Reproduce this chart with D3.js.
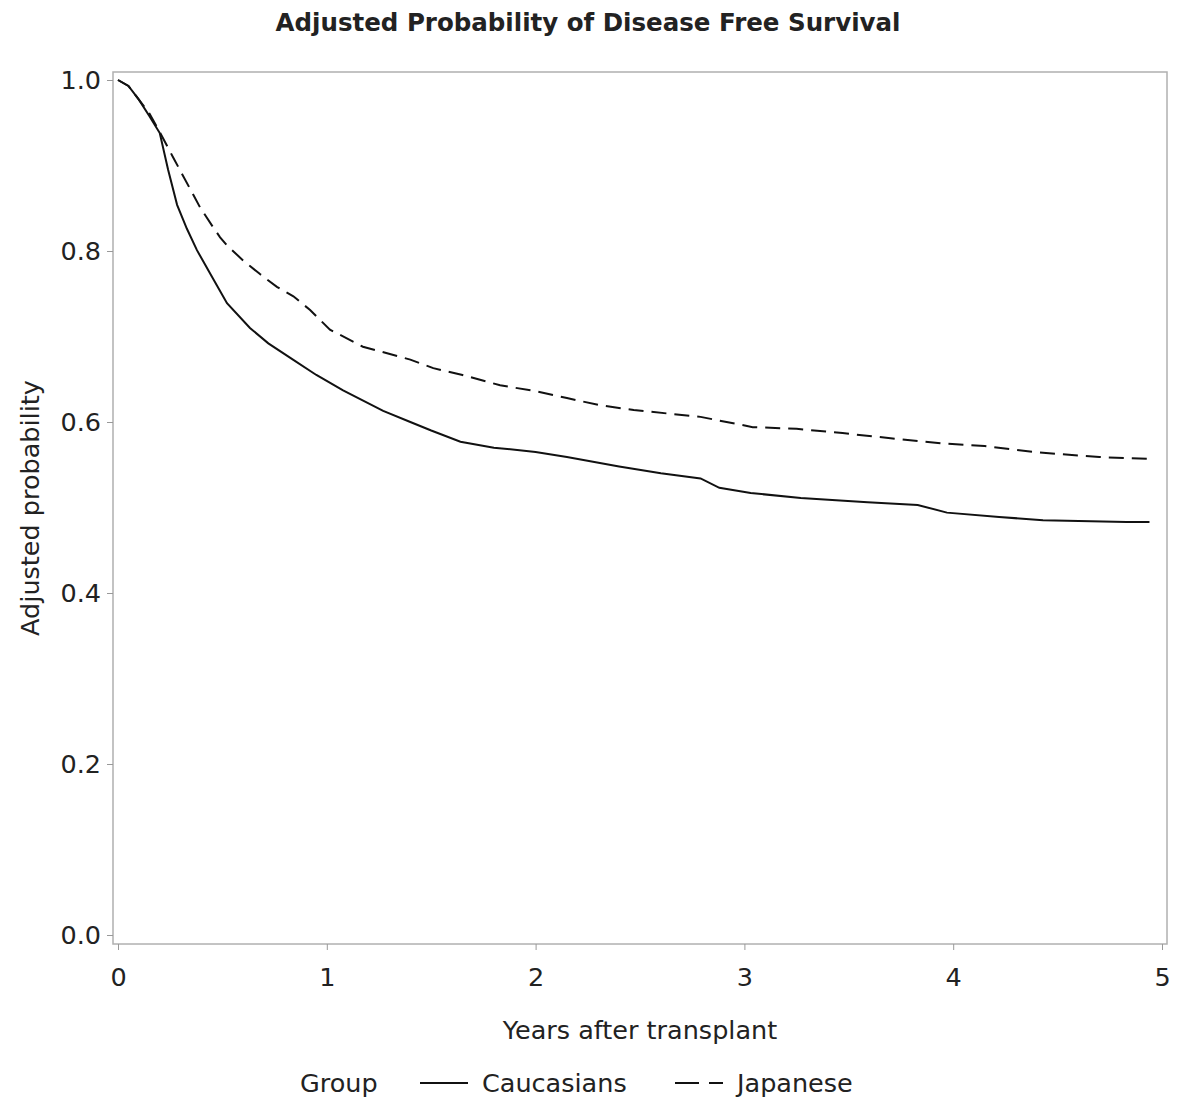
<!DOCTYPE html>
<html>
<head>
<meta charset="utf-8">
<script src="https://cdn.jsdelivr.net/npm/d3@7"></script>
<style>
  body { margin: 0; background: #fff; }
  text { font-family: "DejaVu Sans", Verdana, sans-serif; fill: #222; }
</style>
</head>
<body>
<div class="canvas"></div>
<script>
// years after transplant, adjusted probability
const cauTime = [0, 0.05, 0.1, 0.15, 0.2, 0.24, 0.283, 0.33, 0.378, 0.45, 0.522, 0.632, 0.72, 0.838, 0.95, 1.078, 1.27, 1.4, 1.5, 1.64, 1.8, 2.0, 2.15, 2.4, 2.6, 2.79, 2.88, 3.03, 3.27, 3.59, 3.83, 3.97, 4.22, 4.43, 4.83, 4.94]
const cauProb = [1.0, 0.993, 0.977, 0.958, 0.938, 0.895, 0.854, 0.826, 0.801, 0.77, 0.739, 0.71, 0.692, 0.673, 0.655, 0.637, 0.613, 0.6, 0.59, 0.577, 0.57, 0.565, 0.559, 0.548, 0.54, 0.534, 0.523, 0.517, 0.511, 0.506, 0.503, 0.494, 0.489, 0.485, 0.483, 0.483]
const jpnTime = [0, 0.05, 0.1, 0.15, 0.2, 0.263, 0.36, 0.393, 0.455, 0.489, 0.52, 0.599, 0.68, 0.761, 0.84, 0.92, 1.015, 1.173, 1.4, 1.51, 1.65, 1.83, 2.0, 2.15, 2.3, 2.47, 2.63, 2.79, 3.04, 3.25, 3.47, 3.7, 3.94, 4.15, 4.38, 4.7, 4.94]
const jpnProb = [1.0, 0.993, 0.977, 0.961, 0.939, 0.91, 0.866, 0.851, 0.828, 0.816, 0.807, 0.789, 0.773, 0.758, 0.747, 0.731, 0.708, 0.688, 0.673, 0.663, 0.655, 0.643, 0.636, 0.628, 0.62, 0.614, 0.61, 0.606, 0.594, 0.592, 0.587, 0.581, 0.575, 0.572, 0.565, 0.559, 0.557]

const xTicks = [0, 1, 2, 3, 4, 5]
const yTicks = [0, 0.2, 0.4, 0.6, 0.8, 1.0]
const groups = ['Caucasians', 'Japanese']

const W = 1188, H = 1103
const frame = {left: 113, top: 72, right: 1167, bottom: 944}
const fontSize = '25.5px'

const svg = d3.select('.canvas').append('svg')
    .attr('width', W)
    .attr('height', H)

const x = d3.scaleLinear().domain([0, 5]).range([118, 1162])
const y = d3.scaleLinear().domain([0, 1]).range([935, 80])

// frame
svg.append('rect')
    .attr('x', frame.left).attr('y', frame.top)
    .attr('width', frame.right - frame.left)
    .attr('height', frame.bottom - frame.top)
    .attr('fill', 'none')
    .attr('stroke', '#b0b0b0')
    .attr('stroke-width', 1.5)

const xAxis = svg.append('g')
    .attr('transform', `translate(0, ${frame.bottom})`)
    .call(d3.axisBottom(x).tickValues(xTicks).tickFormat(d3.format('d')).tickSize(6).tickPadding(18))
const yAxis = svg.append('g')
    .attr('transform', `translate(${frame.left}, 0)`)
    .call(d3.axisLeft(y).tickValues(yTicks).tickFormat(d3.format('.1f')).tickSize(6).tickPadding(6))

;[xAxis, yAxis].forEach(a => {
    a.select('.domain').remove()
    a.selectAll('.tick line').attr('stroke', '#999')
    a.selectAll('.tick text')
        .style('font-size', fontSize)
        .style('font-family', '"DejaVu Sans", Verdana, sans-serif')
        .attr('fill', '#222')
})

const line = d3.line()
    .x(d => x(d[0]))
    .y(d => y(d[1]))

const series = [
    {name: groups[0], pts: d3.zip(cauTime, cauProb), dash: null},
    {name: groups[1], pts: d3.zip(jpnTime, jpnProb), dash: '15,8'}
]

svg.selectAll('path.curve')
    .data(series)
    .enter()
        .append('path')
        .attr('class', 'curve')
        .attr('d', d => line(d.pts))
        .attr('fill', 'none')
        .attr('stroke', '#111')
        .attr('stroke-width', 2)
        .attr('stroke-dasharray', d => d.dash)

// title
svg.append('text')
    .attr('x', 588).attr('y', 31)
    .attr('text-anchor', 'middle')
    .style('font-weight', 'bold')
    .style('font-size', '24.5px')
    .text('Adjusted Probability of Disease Free Survival')

// axis labels
svg.append('text')
    .attr('x', (frame.left + frame.right) / 2).attr('y', 1039)
    .attr('text-anchor', 'middle')
    .style('font-size', fontSize)
    .text('Years after transplant')

svg.append('text')
    .attr('transform', 'translate(39, 508) rotate(-90)')
    .attr('text-anchor', 'middle')
    .style('font-size', fontSize)
    .text('Adjusted probability')

// legend
const legend = svg.append('g').attr('transform', 'translate(0, 1083)')
legend.append('text')
    .attr('x', 300).attr('y', 9)
    .style('font-size', fontSize)
    .text('Group')

const legendX = [420, 675]
legend.selectAll('line.key')
    .data(series)
    .enter()
        .append('line')
        .attr('class', 'key')
        .attr('x1', (d, i) => legendX[i])
        .attr('x2', (d, i) => legendX[i] + 48)
        .attr('y1', 0).attr('y2', 0)
        .attr('stroke', '#111')
        .attr('stroke-width', 2)
        .attr('stroke-dasharray', d => d.dash ? '24,10' : null)

legend.selectAll('text.key')
    .data(series)
    .enter()
        .append('text')
        .attr('class', 'key')
        .attr('x', (d, i) => legendX[i] + 62)
        .attr('y', 9)
        .style('font-size', fontSize)
        .text(d => d.name)
</script>
</body>
</html>
